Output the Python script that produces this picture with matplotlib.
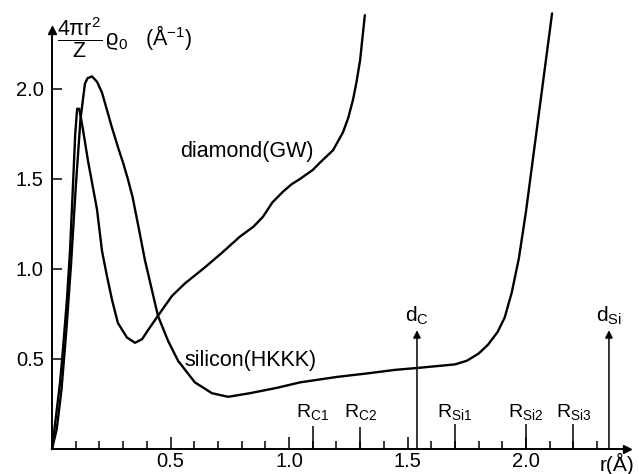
import numpy as np
import matplotlib.pyplot as plt

plt.rcParams['font.family'] = ['Liberation Sans', 'DejaVu Sans']
plt.rcParams['mathtext.fontset'] = 'custom'
plt.rcParams['mathtext.rm'] = 'Liberation Sans'
plt.rcParams['mathtext.it'] = 'Liberation Sans'
plt.rcParams['mathtext.sf'] = 'Liberation Sans'

# ---------------------------------------------------------------------
# Data  (r in Angstrom, 4 pi r^2 rho_0 / Z in 1/A)
# ---------------------------------------------------------------------
diamond_r = [0.0, 0.013, 0.034, 0.046, 0.063, 0.076, 0.088, 0.098, 0.106, 0.115,
             0.13, 0.152, 0.19, 0.211, 0.232, 0.253, 0.278, 0.316, 0.35, 0.38,
             0.405, 0.447, 0.506, 0.561, 0.646, 0.717, 0.793, 0.85, 0.89, 0.93,
             0.975, 1.01, 1.046, 1.10, 1.13, 1.186, 1.228, 1.25, 1.27, 1.285,
             1.30, 1.32]
diamond_v = [0.0, 0.14, 0.37, 0.55, 0.83, 1.10, 1.45, 1.75, 1.89, 1.89,
             1.78, 1.60, 1.33, 1.10, 0.96, 0.83, 0.70, 0.62, 0.59, 0.61,
             0.66, 0.74, 0.85, 0.92, 1.01, 1.09, 1.18, 1.235, 1.29, 1.37,
             1.43, 1.47, 1.50, 1.55, 1.59, 1.66, 1.76, 1.84, 1.94, 2.04,
             2.16, 2.41]

silicon_r = [0.0, 0.02, 0.04, 0.06, 0.08, 0.10, 0.12, 0.139, 0.15, 0.169,
             0.19, 0.211, 0.252, 0.28, 0.30, 0.32, 0.34, 0.37, 0.392, 0.447,
             0.49, 0.532, 0.603, 0.675, 0.743, 0.835, 0.95, 1.046, 1.20, 1.33,
             1.45, 1.54, 1.62, 1.70, 1.75, 1.80, 1.84, 1.88, 1.91, 1.94,
             1.97, 2.0, 2.03, 2.06, 2.09, 2.11]
silicon_v = [0.0, 0.11, 0.33, 0.65, 1.02, 1.45, 1.83, 2.03, 2.06, 2.07,
             2.04, 1.98, 1.79, 1.67, 1.59, 1.50, 1.40, 1.20, 1.05, 0.74,
             0.60, 0.49, 0.37, 0.31, 0.29, 0.31, 0.34, 0.37, 0.40, 0.42,
             0.44, 0.45, 0.46, 0.47, 0.49, 0.53, 0.58, 0.65, 0.73, 0.87,
             1.06, 1.32, 1.62, 1.92, 2.22, 2.42]

# cut-off radii (short markers) and bond lengths (arrows)
cut_labels = ['C1', 'C2', 'Si1', 'Si2', 'Si3']
cut_pos = [1.10, 1.30, 1.70, 2.00, 2.20]
cut_height = [0.13, 0.12, 0.14, 0.14, 0.14]

bond_labels = ['C', 'Si']
bond_pos = [1.54, 2.35]
bond_height = [0.66, 0.66]

tick_major = [0.5, 1.0, 1.5, 2.0]

# ---------------------------------------------------------------------
fig = plt.figure(figsize=(6.39, 4.74), dpi=100)
ax = fig.add_axes([52 / 639, 25 / 474, 575 / 639, 419 / 474])
ax.set_xlim(0, 575 / 237)
ax.set_ylim(0, 419 / 180)

for side in ('top', 'right'):
    ax.spines[side].set_visible(False)
for side in ('left', 'bottom'):
    ax.spines[side].set_linewidth(1.4)

# arrow heads on the axes
ax.plot(1, 0, '>k', ms=6, transform=ax.transAxes, clip_on=False)
ax.plot(0, 1, '^k', ms=6, transform=ax.transAxes, clip_on=False)

ax.set_xticks(tick_major)
ax.set_xticks(np.arange(0.1, 2.35, 0.1), minor=True)
ax.set_yticks(tick_major)
ax.set_xticklabels([f'{t:.1f}' for t in tick_major])
ax.set_yticklabels([f'{t:.1f}' for t in tick_major])
ax.tick_params(axis='both', which='both', direction='in', width=1.1,
               labelsize=14.5, color='k')
ax.tick_params(axis='x', which='major', length=9, pad=2)
ax.tick_params(axis='x', which='minor', length=5.5)
ax.tick_params(axis='y', which='major', length=7, pad=6)

# curves
ax.plot(diamond_r, diamond_v, color='k', lw=1.7, clip_on=False,
        solid_joinstyle='round', solid_capstyle='round')
ax.plot(silicon_r, silicon_v, color='k', lw=1.7, clip_on=False,
        solid_joinstyle='round', solid_capstyle='round')

ax.text(0.54, 1.655, 'diamond(GW)', fontsize=15.5, ha='left', va='center')
ax.text(0.56, 0.49, 'silicon(HKKK)', fontsize=15.5, ha='left', va='center')

# cut-off radii
ax.vlines(cut_pos, 0, cut_height, color='k', lw=1.1)
for lab, x in zip(cut_labels, cut_pos):
    ax.text(x, 0.178, rf'R$_{{\mathregular{{{lab}}}}}$', fontsize=14,
            ha='center', va='baseline')

# bond lengths
for lab, x, h in zip(bond_labels, bond_pos, bond_height):
    ax.annotate('', xy=(x, h), xytext=(x, 0),
                arrowprops=dict(arrowstyle='-|>', color='k', lw=1.1,
                                mutation_scale=11, shrinkA=0, shrinkB=0))
    ax.text(x, 0.705, rf'd$_{{\mathregular{{{lab}}}}}$', fontsize=15,
            ha='center', va='baseline')

ax.text(2.384, -0.02, 'r(Å)', fontsize=15, ha='center', va='top', clip_on=False)

fig.text(57 / 639, 1 - 38 / 474,
         r'$\dfrac{4\pi \mathregular{r}^2}{\mathregular{Z}}\,\varrho_0$   (Å$^{-1}$)',
         fontsize=15.5, ha='left', va='center')

fig.savefig('out.png', dpi=100, facecolor='white')
